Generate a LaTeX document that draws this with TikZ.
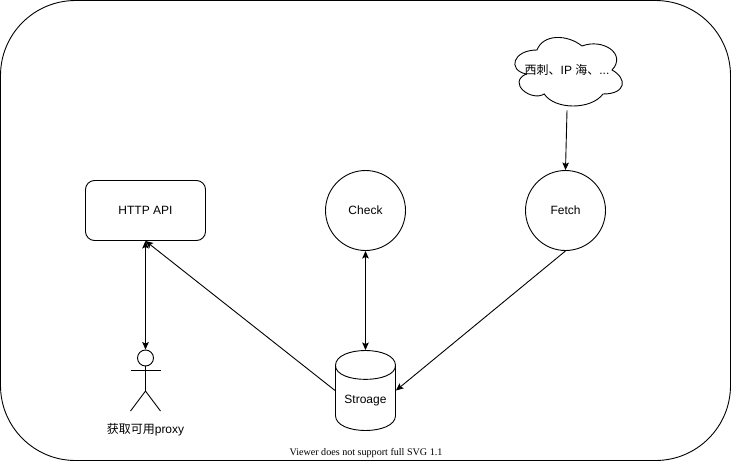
\documentclass[tikz,border=0pt]{standalone}
\usepackage{fontspec}
\setmainfont{Liberation Sans}
\newfontfamily\cjk{Noto Sans CJK SC}
\newfontfamily\notefont{Liberation Serif}
\usetikzlibrary{arrows.meta}
\tikzset{
    every picture/.style={x=1pt,y=-1pt,line width=0.9pt},
    every node/.style={font=\fontsize{12}{14}\selectfont},
    link/.style={-{Stealth[length=7.5pt,width=6.5pt,inset=1.5pt]}},
    bothlink/.style={{Stealth[length=7.5pt,width=6.5pt,inset=1.5pt]}-{Stealth[length=7.5pt,width=6.5pt,inset=1.5pt]}},
    job/.style={draw,circle,inner sep=0pt,minimum size=80pt}
}

\begin{document}
\begin{tikzpicture}
    \useasboundingbox (0,0) rectangle (731,461);

    % Outer frame
    \draw[rounded corners=75pt] (0.5,0.5) rectangle (730.5,460.5);

    % Components
    \node[draw,rounded corners=9pt,minimum width=120pt,minimum height=60pt,inner sep=0pt] (api) at (145.5,210.5) {HTTP API};
    \node[job] (check) at (365.5,210.5) {Check};
    \node[job] (fetch) at (565.5,210.5) {Fetch};

    % Storage
    \node[minimum width=60pt,minimum height=80pt,inner sep=0pt] (store) at (365.5,390.5) {};
    \node (storetext) at (365.5,401) {Stroage};
    \draw (335.5,365.5) .. controls (335.5,345.5) and (395.5,345.5) .. (395.5,365.5)
        -- (395.5,415.5) .. controls (395.5,435.5) and (335.5,435.5) .. (335.5,415.5) -- cycle;
    \draw (335.5,365.5) .. controls (335.5,384) and (395.5,384) .. (395.5,365.5);

    % Cloud
    \node[minimum width=120pt,minimum height=80pt,inner sep=0pt] (source) at (567,70) {{\cjk 西刺、}IP {\cjk 海、}...};
    \draw (537,50) .. controls (513,50) and (507,70) .. (526.2,74)
        .. controls (507,82.8) and (531,102) .. (544.2,94)
        .. controls (555,110) and (591,110) .. (603,94)
        .. controls (627,94) and (627,78) .. (612,70)
        .. controls (627,54) and (603,38) .. (582,46)
        .. controls (567,34) and (543,34) .. (537,50) -- cycle;

    % Actor
    \node[draw,circle,inner sep=0pt,minimum size=16pt] (head) at (145.5,358) {};
    \coordinate (hip) at (145.5,391);
    \draw (head.south) -- (hip);
    \draw (130.5,370.5) -- (160.5,370.5);
    \draw (130.5,411) -- (hip) -- (160.5,411);
    \node (user) at (145.5,430) {{\cjk 获取可用}proxy};

    % Connections
    \draw[link] (source.south) -- (fetch.north);
    \draw[bothlink] (api.south) -- (head.north);
    \draw[bothlink] (check.south) -- (store.north);
    \draw[link] (fetch.south) -- (store.east);
    \draw[link] (store.west) -- (api.south);

    % Footer
    \node[font=\notefont\fontsize{10.1}{12}\selectfont] (note) at (366,453) {Viewer does not support full SVG 1.1};
\end{tikzpicture}
\end{document}
